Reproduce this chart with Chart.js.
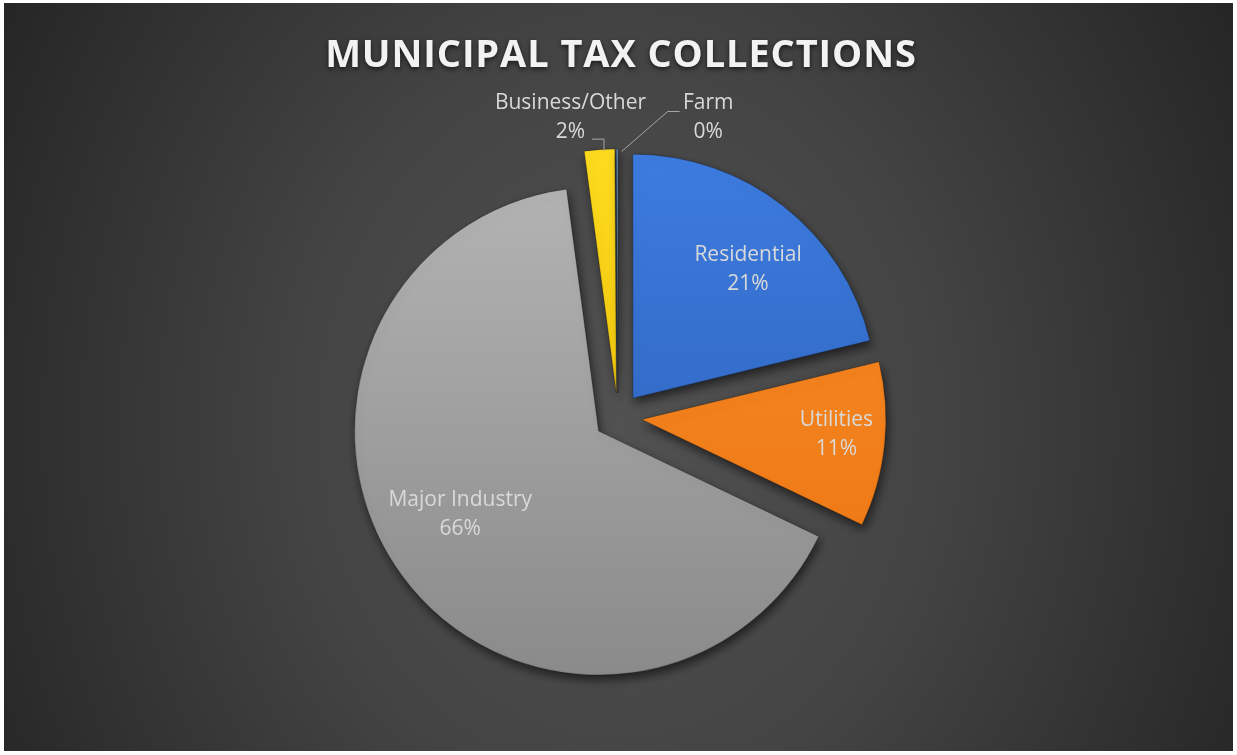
<!DOCTYPE html>
<html>
<head>
<meta charset="utf-8">
<script src="https://cdn.jsdelivr.net/npm/chart.js@4.4.0/dist/chart.umd.min.js"></script>
<style>
  html, body { margin: 0; padding: 0; background: #fff; }
  #wrap { position: absolute; left: 4px; top: 3px; width: 1229px; height: 748px; }
</style>
</head>
<body>
<div id="wrap"><canvas id="taxChart"></canvas></div>
<script>
const chartTitle = 'MUNICIPAL TAX COLLECTIONS';
const categories = ['Residential', 'Utilities', 'Major Industry', 'Business/Other', 'Farm'];
const taxShare = [21.2, 10.9, 65.8, 2.0, 0.1];

// slice colours, top and bottom of the vertical gradient
const sliceTop = ['#3e7de2', '#fc8d28', '#b5b5b5', '#ffdd20', '#6aa5dc'];
const sliceBottom = ['#2a5cb1', '#e8730f', '#888888', '#e8b600', '#4a86c0'];

// where each label sits: inside ones by fraction of radius, outside ones relative to the slice tip
const insideLabels = {
  0: { frac: 0.709, da: 3.6 },
  1: { frac: 0.80, da: -1.5 },
  2: { frac: 0.663, da: 4.8 }
};
const outsideLabels = {
  3: { dx: -29, dy: -32, leader: [[-8, -11], [4, -11], [4, 1]] },
  4: { dx: 91, dy: -31, leader: [[62, -38], [50, -38], [4, 2]] }
};

// chart.js enlarges and narrows exploded slices; keep the plain shift only, like Excel does
const arcDraw = Chart.ArcElement.prototype.draw;
Chart.ArcElement.prototype.draw = function (ctx) {
  const circ = this.circumference;
  if (!circ) return;
  this.circumference = Math.PI / 2;
  arcDraw.call(this, ctx);
  this.circumference = circ;
};

const backdrop = {
  id: 'backdrop',
  beforeDraw(chart) {
    const ctx = chart.ctx;
    ctx.save();
    ctx.translate(614, 420);
    ctx.scale(1, 1.2);
    const g = ctx.createRadialGradient(0, 0, 0, 0, 0, 700);
    g.addColorStop(0, '#515151');
    g.addColorStop(0.45, '#444444');
    g.addColorStop(1, '#262626');
    ctx.fillStyle = g;
    ctx.fillRect(-700, -400, 1400, 800);
    ctx.restore();

    // title
    ctx.save();
    ctx.font = 'bold 38px "Open Sans"';
    ctx.letterSpacing = '0.9px';
    ctx.textAlign = 'center';
    ctx.textBaseline = 'alphabetic';
    ctx.shadowColor = 'rgba(0,0,0,0.65)';
    ctx.shadowBlur = 5;
    ctx.shadowOffsetY = 2;
    ctx.fillStyle = '#f2f2f2';
    ctx.fillText(chartTitle, 617, 64);
    ctx.restore();
  }
};

const sliceShadow = {
  id: 'sliceShadow',
  beforeDatasetsDraw(chart) {
    const ctx = chart.ctx;
    ctx.save();
    ctx.shadowColor = 'rgba(0,0,0,0.55)';
    ctx.shadowBlur = 10;
    ctx.shadowOffsetX = 2;
    ctx.shadowOffsetY = 5;
  },
  afterDatasetsDraw(chart) {
    chart.ctx.restore();
  }
};

const sliceLabels = {
  id: 'sliceLabels',
  afterDatasetsDraw(chart) {
    const ctx = chart.ctx;
    const meta = chart.getDatasetMeta(0);
    const values = chart.data.datasets[0].data;
    const total = values.reduce((a, b) => a + b, 0);
    const shift = chart.data.datasets[0].offset / 4;
    ctx.save();
    ctx.font = '21px "Open Sans"';
    ctx.fillStyle = '#d9d9d9';
    ctx.textAlign = 'center';
    ctx.textBaseline = 'middle';
    ctx.strokeStyle = '#a6a6a6';
    ctx.lineWidth = 1;
    meta.data.forEach((arc, i) => {
      const { x, y, startAngle, endAngle, outerRadius } = arc.getProps(['x', 'y', 'startAngle', 'endAngle', 'outerRadius']);
      const mid = (startAngle + endAngle) / 2;
      const ax = x + Math.cos(mid) * shift;
      const ay = y + Math.sin(mid) * shift;
      const pct = Math.round(values[i] / total * 100) + '%';
      let lx, ly;
      if (insideLabels[i]) {
        const place = insideLabels[i];
        const a = mid + place.da * Math.PI / 180;
        lx = ax + Math.cos(a) * outerRadius * place.frac;
        ly = ay + Math.sin(a) * outerRadius * place.frac;
      } else {
        const out = outsideLabels[i];
        const ox = ax + Math.cos(mid) * outerRadius;
        const oy = ay + Math.sin(mid) * outerRadius;
        lx = ox + out.dx;
        ly = oy + out.dy;
        ctx.beginPath();
        out.leader.forEach((p, k) => {
          if (k === 0) ctx.moveTo(ox + p[0] + 0.5, oy + p[1] + 0.5);
          else ctx.lineTo(ox + p[0] + 0.5, oy + p[1] + 0.5);
        });
        ctx.stroke();
      }
      ctx.fillText(categories[i], lx, ly - 14.5);
      ctx.fillText(pct, lx, ly + 14.5);
    });
    ctx.restore();
  }
};

new Chart(document.getElementById('taxChart'), {
  type: 'pie',
  data: {
    labels: categories,
    datasets: [{
      data: taxShare,
      offset: 96,
      radius: 244,
      borderWidth: 1,
      borderColor: 'rgba(0,0,0,0.25)',
      backgroundColor(c) {
        const { ctx, chartArea } = c.chart;
        if (!chartArea) return sliceTop[c.dataIndex];
        const cy = (chartArea.top + chartArea.bottom) / 2;
        const g = ctx.createLinearGradient(0, cy - 270, 0, cy + 270);
        g.addColorStop(0, sliceTop[c.dataIndex]);
        g.addColorStop(1, sliceBottom[c.dataIndex]);
        return g;
      }
    }]
  },
  options: {
    responsive: true,
    maintainAspectRatio: false,
    animation: false,
    layout: { padding: { left: 0, right: 1, top: 150, bottom: 70 } },
    plugins: {
      legend: { display: false },
      title: { display: false },
      tooltip: { enabled: false }
    }
  },
  plugins: [backdrop, sliceShadow, sliceLabels]
});
</script>
</body>
</html>
